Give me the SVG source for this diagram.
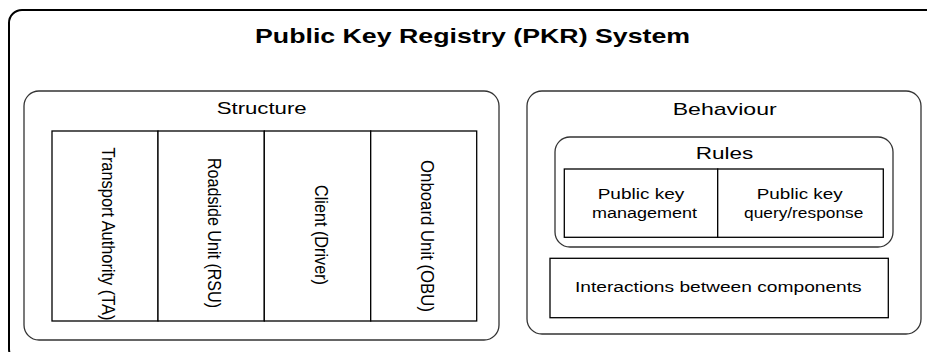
<svg xmlns="http://www.w3.org/2000/svg" width="927" height="352" viewBox="0 0 927 352">
  <style>
    text { font-family: "Liberation Sans", Arial, sans-serif; fill: #000; }
    .frame { fill: #fff; stroke: #000; stroke-width: 2; }
    .group { fill: #fff; stroke: #333; stroke-width: 1.3; }
    .cell { fill: #fff; stroke: #000; stroke-width: 1.3; }
    .title { font-size: 21px; font-weight: bold; }
    .head { font-size: 17px; }
    .label { font-size: 15.5px; }
    .vlabel { font-size: 16px; text-anchor: middle; }
  </style>
  <rect width="927" height="352" fill="#fff"/>

  <!-- outer system frame -->
  <g id="pkr-system">
    <rect class="frame" x="9" y="10" width="935" height="352" rx="13"/>
    <text class="title" x="255" y="43" textLength="435" lengthAdjust="spacingAndGlyphs">Public Key Registry (PKR) System</text>
  </g>

  <!-- structure: the four entities -->
  <g id="structure">
    <rect class="group" x="24" y="91" width="475" height="249" rx="15"/>
    <text class="head" x="216.7" y="114" textLength="90" lengthAdjust="spacingAndGlyphs">Structure</text>
  </g>
  <g id="ta">
    <rect class="cell" x="52" y="131" width="106" height="190"/>
    <text class="vlabel" transform="translate(101.5,234) scale(1.2,1) rotate(90)" textLength="173" lengthAdjust="spacingAndGlyphs">Transport Authority (TA)</text>
  </g>
  <g id="rsu">
    <rect class="cell" x="158" y="131" width="106.3" height="190"/>
    <text class="vlabel" transform="translate(208,233) scale(1.2,1) rotate(90)" textLength="150" lengthAdjust="spacingAndGlyphs">Roadside Unit (RSU)</text>
  </g>
  <g id="client">
    <rect class="cell" x="264.3" y="131" width="106.4" height="190"/>
    <text class="vlabel" transform="translate(315,235) scale(1.2,1) rotate(90)" textLength="100" lengthAdjust="spacingAndGlyphs">Client (Driver)</text>
  </g>
  <g id="obu">
    <rect class="cell" x="370.7" y="131" width="106" height="190"/>
    <text class="vlabel" transform="translate(420.5,236) scale(1.2,1) rotate(90)" textLength="152" lengthAdjust="spacingAndGlyphs">Onboard Unit (OBU)</text>
  </g>

  <!-- behaviour: rules and interactions -->
  <g id="behaviour">
    <rect class="group" x="527" y="91" width="394" height="243" rx="15"/>
    <text class="head" x="672.7" y="115" textLength="104" lengthAdjust="spacingAndGlyphs">Behaviour</text>
  </g>
  <g id="rules">
    <rect class="group" x="555" y="137" width="338" height="110" rx="15"/>
    <text class="head" x="695.7" y="159" textLength="57.6" lengthAdjust="spacingAndGlyphs">Rules</text>
  </g>
  <g id="key-management">
    <rect class="cell" x="564.3" y="169" width="153.4" height="68.3"/>
    <text class="label" x="597.7" y="199" textLength="86.6" lengthAdjust="spacingAndGlyphs">Public key</text>
    <text class="label" x="592" y="217.5" textLength="105" lengthAdjust="spacingAndGlyphs">management</text>
  </g>
  <g id="key-query">
    <rect class="cell" x="717.7" y="169" width="165.6" height="68.3"/>
    <text class="label" x="756.7" y="199" textLength="86" lengthAdjust="spacingAndGlyphs">Public key</text>
    <text class="label" x="744" y="217.5" textLength="119.3" lengthAdjust="spacingAndGlyphs">query/response</text>
  </g>
  <g id="interactions">
    <rect class="cell" x="550" y="258.3" width="338.3" height="59.4"/>
    <text class="label" x="575" y="292" textLength="286.7" lengthAdjust="spacingAndGlyphs">Interactions between components</text>
  </g>
</svg>
